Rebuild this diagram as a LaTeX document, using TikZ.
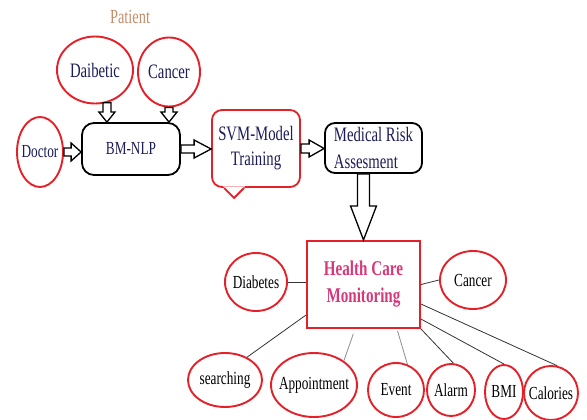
\documentclass[tikz,border=0pt]{standalone}
\usepackage{fontspec}
\setmainfont{Liberation Serif}[FakeStretch=0.72]
\usetikzlibrary{calc,shapes.geometric}
\definecolor{ellred}{RGB}{228,32,40}
\definecolor{txtnavy}{RGB}{28,28,88}
\definecolor{hcmpink}{RGB}{214,56,122}
\definecolor{patienttan}{RGB}{196,142,106}
\tikzset{
  oval/.style={ellipse, draw=ellred, line width=1.9pt, inner xsep=-7pt, inner ysep=0pt,
    font=\fontsize{18.4}{20}\selectfont},
  top/.style={text=txtnavy, font=\fontsize{20.5}{22}\selectfont},
  procbox/.style={draw, rounded corners=12pt, line width=1.8pt, text=txtnavy,
    font=\fontsize{20.5}{27}\selectfont},
  bubble/.style={draw=ellred, line width=1.8pt, rounded corners=10pt, align=center,
    text=txtnavy, font=\fontsize{20.5}{25}\selectfont},
  hcmbox/.style={draw=ellred, line width=2.2pt, align=center, text=hcmpink,
    font=\bfseries\fontsize{21}{27}\selectfont},
  link/.style={line width=0.8pt, draw=black!80},
  faintlink/.style={line width=0.8pt, draw=black!45},
  fatarrow/.style={draw, line width=1.3pt, fill=white, line join=miter}
}
% hollow block arrow: start, end, half shaft, half head, head length
\newcommand{\hollowarrow}[5]{%
  \coordinate (ha-s) at (#1);
  \coordinate (ha-e) at (#2);
  \coordinate (ha-b) at ($(ha-e)!#5!(ha-s)$);
  \draw[fatarrow] ($(ha-s)!#3!90:(ha-e)$) -- ($(ha-b)!#3!90:(ha-e)$)
    -- ($(ha-b)!#4!90:(ha-e)$) -- (ha-e) -- ($(ha-b)!#4!-90:(ha-e)$)
    -- ($(ha-b)!#3!-90:(ha-e)$) -- ($(ha-s)!#3!-90:(ha-e)$) -- cycle;
}
\begin{document}
\begin{tikzpicture}[x=1pt,y=-1pt]
\useasboundingbox (0,0) rectangle (587,420);
% inputs
\node[font=\fontsize{20}{22}\selectfont, text=patienttan] (patient) at (130,17) {Patient};
\node[oval, top, minimum width=76pt, minimum height=67pt] (daibetic) at (95,70) {Daibetic};
\node[oval, top, minimum width=62pt, minimum height=69pt] (cancertop) at (169,72) {Cancer};
\node[oval, text=txtnavy, minimum width=46pt, minimum height=70pt] (doctor) at (40,152) {Doctor};
\node[procbox, font=\fontsize{18.4}{20}\selectfont, minimum width=98pt, minimum height=52pt] (bmnlp) at (131,149) {BM-NLP};
\node[bubble, minimum width=88pt, minimum height=77pt] (svm) at (256,148.5) {SVM-Model\\Training};
\fill[white] ([xshift=12pt,yshift=1.5pt]svm.south west) -- ++(11,11.5) -- ++(11,-11.5) -- cycle;
\draw[draw=ellred, line width=1.8pt] ([xshift=13pt]svm.south west) -- ++(10,10) -- ++(10,-10);
\node[procbox, align=left, rounded corners=10pt, minimum width=97pt, minimum height=50pt] (risk) at (373.5,148) {Medical Risk\\Assesment};
% monitoring
\node[hcmbox, minimum width=113pt, minimum height=87pt] (hcm) at (363.5,284.5) {Health Care\\Monitoring};
\node[oval, minimum width=62pt, minimum height=58pt] (diabetes) at (256,282) {Diabetes};
\node[oval, minimum width=66pt, minimum height=58pt] (cancer) at (473,280) {Cancer};
\node[oval, minimum width=74pt, minimum height=54pt] (searching) at (225,380) {searching};
\node[oval, minimum width=86pt, minimum height=64pt] (appointment) at (314,385) {Appointment};
\node[oval, minimum width=56pt, minimum height=54pt] (event) at (396,390) {Event};
\node[oval, minimum width=48pt, minimum height=52pt] (alarm) at (451,390) {Alarm};
\node[oval, minimum width=38pt, minimum height=54pt] (bmi) at (504,392) {BMI};
\node[oval, minimum width=54pt, minimum height=54pt] (calories) at (551,393) {Calories};
% block arrows
\hollowarrow{doctor.east}{doctor.east -| bmnlp.west}{4pt}{9pt}{10pt}
\hollowarrow{daibetic.-70}{daibetic.-70 |- bmnlp.north}{4pt}{8pt}{10pt}
\hollowarrow{cancertop.south}{cancertop.south |- bmnlp.north}{4pt}{8pt}{10pt}
\hollowarrow{bmnlp.east}{bmnlp.east -| svm.west}{4pt}{9pt}{17pt}
\hollowarrow{svm.east}{svm.east -| risk.west}{4.5pt}{8.5pt}{15pt}
\hollowarrow{hcm.north |- risk.south}{hcm.north}{6pt}{13pt}{34pt}
% links
\draw[link] (diabetes.east) -- (diabetes.east -| hcm.west);
\draw[link] (hcm.east) -- (cancer.west);
\draw[link] ([yshift=14pt]hcm.south west) -- (searching.46);
\draw[faintlink, shorten <=5pt] ([xshift=-8.5pt]hcm.south) -- (appointment.39);
\draw[faintlink, shorten <=2pt] ([xshift=33.5pt]hcm.south) -- (event.66);
\draw[link] (hcm.south east) -- (alarm.85);
\draw[link] ([yshift=10pt]hcm.south east) -- (bmi.north);
\draw[link] ([yshift=25pt]hcm.south east) -- (calories.77);
\end{tikzpicture}
\end{document}
